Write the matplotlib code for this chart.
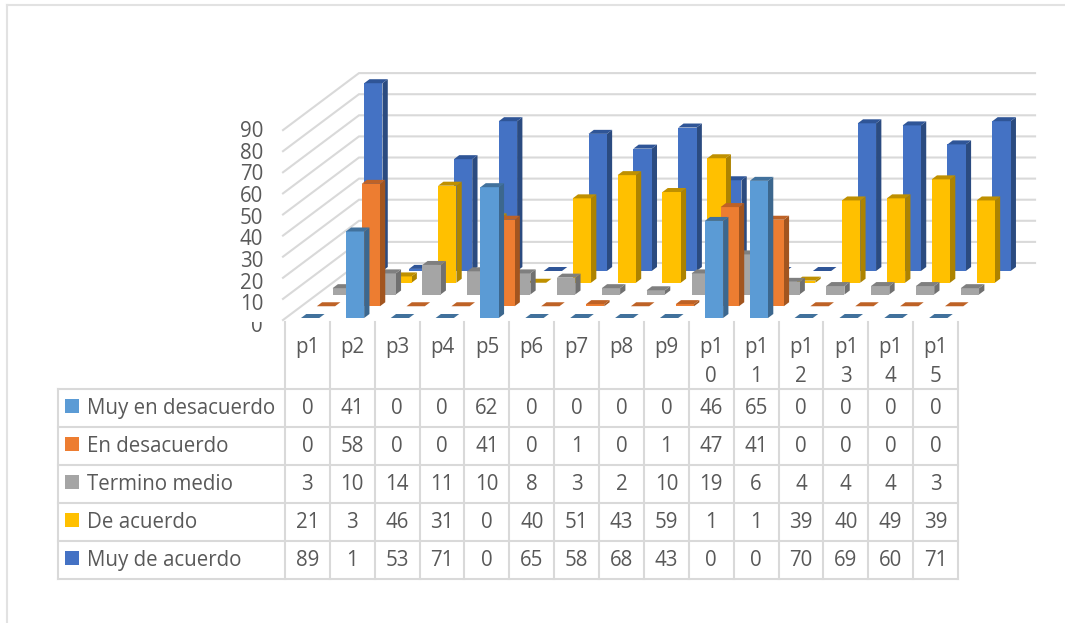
import matplotlib
matplotlib.use("Agg")
import matplotlib.pyplot as plt
from matplotlib.patches import Polygon, Rectangle
from matplotlib.transforms import Bbox

# ---------------------------
# DATA
# ---------------------------
categories = ["p1", "p2", "p3", "p4", "p5", "p6", "p7", "p8", "p9",
              "p1\n0", "p1\n1", "p1\n2", "p1\n3", "p1\n4", "p1\n5"]
series_names = ["Muy en desacuerdo", "En desacuerdo", "Termino medio", "De acuerdo", "Muy de acuerdo"]

muy_desacuerdo = [0, 41, 0, 0, 62, 0, 0, 0, 0, 46, 65, 0, 0, 0, 0]
en_desacuerdo = [0, 58, 0, 0, 41, 0, 1, 0, 1, 47, 41, 0, 0, 0, 0]
termino_medio = [3, 10, 14, 11, 10, 8, 3, 2, 10, 19, 6, 4, 4, 4, 3]
de_acuerdo = [21, 3, 46, 31, 0, 40, 51, 43, 59, 1, 1, 39, 40, 49, 39]
muy_acuerdo = [89, 1, 53, 71, 0, 65, 58, 68, 43, 0, 0, 70, 69, 60, 71]
series_values = [muy_desacuerdo, en_desacuerdo, termino_medio, de_acuerdo, muy_acuerdo]

y_ticks = [0, 10, 20, 30, 40, 50, 60, 70, 80, 90]

# front, top, side colour of each series
front_colors = ["#5B9BD5", "#ED7D31", "#A5A5A5", "#FFC000", "#4472C4"]
top_colors = ["#41719C", "#BE6226", "#7F7F7F", "#BF9000", "#2F5597"]
side_colors = ["#3C678E", "#A2551F", "#707070", "#AD8300", "#2B4B80"]

# ---------------------------
# GEOMETRY (pixels of the picture)
# ---------------------------
GRID = "#D9D9D9"
TEXT = "#595959"
FONT = "Open Sans"
FSIZE = 14.8

x0 = 285.0          # left end of the table columns
col_w = 44.87
y0 = 320.0          # value 0 on the front edge
px_per_unit = 2.11
wall_dx, wall_dy = 76.0, 57.0
bar_w = 18.3
bar_dx, bar_dy = 5.3, 4.0
slot_dx, slot_dy = 15.8, 11.75
first_dx, first_dy = 2.7, 2.0


def project(x, depth_x, depth_y, value):
    return (x + depth_x, y0 - depth_y - value * px_per_unit)


fig = plt.figure(figsize=(10.65, 6.23), dpi=100)
ax = fig.add_axes([0, 0, 1, 1])
ax.set_xlim(0, 1065)
ax.set_ylim(623, 0)
ax.axis("off")

# ---------------------------
# FRAME AND WALLS
# ---------------------------
ax.plot([6.7, 6.7], [5, 623], color="#E2E2E2", lw=1.5)
ax.plot([6.7, 1065], [5, 5], color="#E2E2E2", lw=1.5)

x_right = x0 + col_w * len(categories)
for v in y_ticks:
    p_front = project(x0 - 2, 0, 0, v)
    p_back = project(x0 - 2, wall_dx, wall_dy, v)
    p_end = project(x_right, wall_dx + 1, wall_dy, v)
    ax.plot([p_front[0], p_back[0], p_end[0]], [p_front[1], p_back[1], p_end[1]],
            color=GRID, lw=1.5, solid_joinstyle="miter", zorder=1)

# ---------------------------
# 3D COLUMNS, back series first
# ---------------------------
z = 2
for s in range(len(series_values) - 1, -1, -1):
    dx = first_dx + slot_dx * s
    dy = first_dy + slot_dy * s
    for c, v in enumerate(series_values[s]):
        left = x0 + col_w * c + (col_w - bar_w) / 2
        right = left + bar_w
        bl = project(left, dx, dy, 0)
        br = project(right, dx, dy, 0)
        tl = project(left, dx, dy, v)
        tr = project(right, dx, dy, v)
        br_b = project(right, dx + bar_dx, dy + bar_dy, 0)
        tr_b = project(right, dx + bar_dx, dy + bar_dy, v)
        tl_b = project(left, dx + bar_dx, dy + bar_dy, v)
        if v > 0:
            ax.add_patch(Polygon([br, tr, tr_b, br_b], fc=side_colors[s], ec="none", zorder=z))
            ax.add_patch(Polygon([bl, br, tr, tl], fc=front_colors[s], ec="none", zorder=z))
        ax.add_patch(Polygon([tl, tr, tr_b, tl_b], fc=top_colors[s], ec="none", zorder=z))
    z += 1

# ---------------------------
# Y AXIS LABELS
# ---------------------------
for v in y_ticks:
    t = ax.text(263, 332 - v * 2.165, str(v), ha="right", va="baseline",
                fontsize=FSIZE, color=TEXT, family=FONT)
    if v == 0:
        # the zero is cut off by the plot area in the original
        t.set_clip_box(Bbox([[0, 0], [1065, 623 - 321.5]]))
        t.set_clip_on(True)

# ---------------------------
# DATA TABLE
# ---------------------------
row_lines = [389, 426.5, 464.5, 502.5, 540.5, 578.5]
table_left = 58
line_kw = dict(color=GRID, lw=1.5, zorder=20, solid_capstyle="projecting")

for y in row_lines:
    ax.plot([table_left, x_right], [y, y], **line_kw)
ax.plot([table_left, table_left], [row_lines[0], row_lines[-1]], **line_kw)
for c in range(len(categories) + 1):
    x = x0 + col_w * c
    ax.plot([x, x], [322, row_lines[-1]], **line_kw)

for c, name in enumerate(categories):
    xc = x0 + col_w * (c + 0.5)
    for i, part in enumerate(name.split("\n")):
        ax.text(xc, 352.5 + 29 * i, part, ha="center", va="baseline", fontsize=FSIZE, color=TEXT, family=FONT)

for s, name in enumerate(series_names):
    yc = (row_lines[s] + row_lines[s + 1]) / 2
    ax.add_patch(Rectangle((65, yc - 8.5), 14, 14, fc=front_colors[s], ec="none", zorder=21))
    ax.text(87, yc + 6.5, name, ha="left", va="baseline", fontsize=FSIZE, color=TEXT, family=FONT)
    for c, v in enumerate(series_values[s]):
        ax.text(x0 + col_w * (c + 0.5), yc + 6.5, str(v), ha="center", va="baseline",
                fontsize=FSIZE, color=TEXT, family=FONT)

fig.savefig("out.png", dpi=100)
